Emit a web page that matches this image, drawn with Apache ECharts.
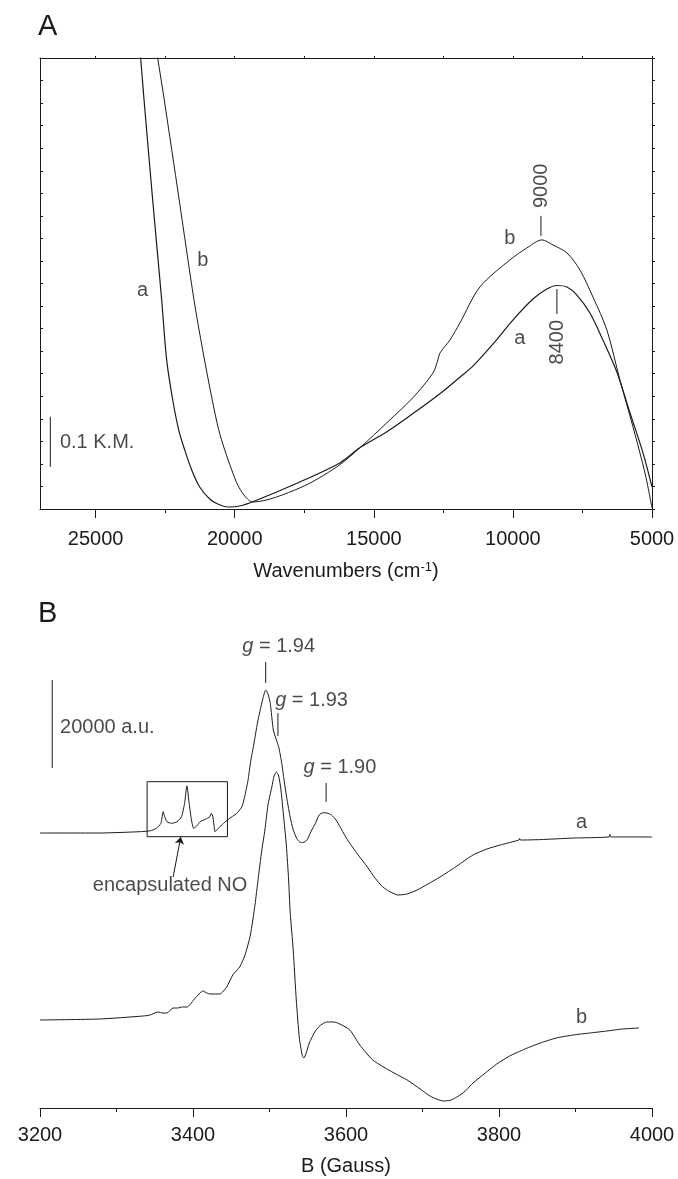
<!DOCTYPE html>
<html>
<head>
<meta charset="utf-8">
<script src="https://cdn.jsdelivr.net/npm/echarts@6/dist/echarts.min.js"></script>
<style>
  html, body { margin: 0; padding: 0; background: #fff; }
  #chart { width: 678px; height: 1179px; }
</style>
</head>
<body>
<div id="chart"></div>
<script>
// ---- panel A: diffuse reflectance (K.M.) vs wavenumber ----
const waveA_a = [23464, 23381, 23259, 22950, 22626, 22446, 22230, 22015, 21799, 21547, 21259, 20899, 20612, 20252, 19820, 19281, 17662, 16223, 15504, 14533, 13454, 12626, 11907, 11439, 10720, 10001, 9281, 8778, 8418, 8058, 7698, 7231, 6763, 6260, 5792, 5324, 5000];
const kmA_a = [0.956, 0.900, 0.816, 0.617, 0.417, 0.297, 0.218, 0.158, 0.118, 0.078, 0.044, 0.020, 0.010, 0.004, 0.006, 0.016, 0.054, 0.092, 0.122, 0.154, 0.196, 0.230, 0.263, 0.285, 0.329, 0.377, 0.419, 0.439, 0.446, 0.443, 0.427, 0.391, 0.337, 0.273, 0.192, 0.112, 0.044];
const waveA_b = [22928, 22770, 22532, 21997, 21464, 21151, 20810, 20576, 20360, 20108, 19892, 19640, 19353, 17662, 16331, 15504, 14533, 13598, 12878, 12698, 12626, 12267, 11907, 11188, 10108, 9497, 8957, 8562, 8058, 7591, 7123, 6620, 6152, 5684, 5253, 5000];
const kmA_b = [0.956, 0.900, 0.816, 0.617, 0.417, 0.317, 0.218, 0.158, 0.118, 0.078, 0.048, 0.026, 0.014, 0.042, 0.084, 0.122, 0.172, 0.222, 0.271, 0.297, 0.311, 0.337, 0.371, 0.443, 0.497, 0.521, 0.537, 0.527, 0.511, 0.477, 0.423, 0.357, 0.257, 0.164, 0.072, 0.002];
const waveTicksA = [5000, 10000, 15000, 20000, 25000];
const waveMinorA = [7500, 12500, 17500, 22500];
const waveEdgeA = [5000, 7500, 10000, 12500, 15000, 17500, 20000, 22500, 25000];

// labels and marks in panel A (wavenumber, K.M.)
const textA = ['a', 'b', 'b', 'a', '0.1 K.M.'];
const textA_x = [23309, 21151, 10108, 9748, 24946];
const textA_y = [0.437, 0.495, 0.539, 0.341, 0.132];
const peakA = ['9000', '8400'];
const peakA_x = [8990, 8382];
const peakA_y = [0.645, 0.333];
const peakLineA_x = [8993, 8418];
const peakLineA_lo = [0.545, 0.389];
const peakLineA_hi = [0.585, 0.439];
const barA = [26629, 0.084, 0.184];

// ---- panel B: EPR spectra ----
const fieldB_a = [3200, 3278, 3331, 3344, 3352, 3358, 3361, 3363, 3366, 3372, 3379, 3385, 3389, 3392, 3395, 3398, 3401, 3406, 3409, 3416, 3422, 3424, 3426, 3429, 3433, 3440, 3446, 3457, 3464, 3468, 3472, 3475, 3480, 3485, 3492, 3495, 3498, 3501, 3505, 3509, 3512, 3516, 3519, 3523, 3527, 3531, 3536, 3540, 3544, 3549, 3554, 3560, 3565, 3570, 3575, 3581, 3587, 3592, 3599, 3605, 3616, 3628, 3638, 3648, 3658, 3668, 3680, 3693, 3707, 3723, 3745, 3766, 3784, 3801, 3826, 3827, 3828, 3854, 3897, 3944, 3945, 3946, 4000];
const epr_a = [62500, 62500, 62800, 63000, 63550, 64700, 67350, 66200, 65050, 64700, 65050, 66200, 69250, 73200, 69250, 65450, 63550, 64300, 65050, 65600, 66200, 66950, 66200, 62800, 63550, 64700, 65600, 66950, 68500, 71150, 74550, 78350, 83200, 88200, 93500, 95000, 94100, 92000, 85900, 83650, 82100, 78350, 74550, 70000, 66150, 63200, 61150, 60400, 60350, 60900, 62750, 64700, 66600, 67100, 67050, 66600, 65450, 63950, 61800, 60150, 57500, 54750, 52250, 50250, 49100, 48400, 48650, 49550, 50900, 52500, 55000, 57500, 58850, 59750, 60900, 61300, 60900, 61000, 61350, 61600, 62200, 61600, 61600];
const fieldB_b = [3200, 3278, 3335, 3344, 3354, 3361, 3366, 3374, 3380, 3386, 3392, 3403, 3413, 3418, 3422, 3435, 3444, 3452, 3461, 3468, 3475, 3481, 3485, 3490, 3494, 3498, 3503, 3506, 3509, 3512, 3515, 3518, 3522, 3525, 3527, 3531, 3535, 3539, 3543, 3545, 3548, 3552, 3560, 3567, 3575, 3584, 3592, 3605, 3618, 3635, 3658, 3680, 3697, 3710, 3719, 3727, 3736, 3745, 3756, 3766, 3782, 3797, 3814, 3834, 3854, 3875, 3897, 3919, 3941, 3961, 3983];
const epr_b = [20000, 20230, 20910, 21140, 21820, 21590, 21590, 22730, 22730, 22950, 22950, 25000, 26590, 26140, 25910, 25910, 27500, 30230, 32050, 34770, 39320, 46140, 51820, 58640, 63180, 68860, 72950, 75450, 76360, 75450, 72270, 67050, 59770, 51820, 44550, 35910, 24550, 15910, 11820, 11360, 12500, 14770, 17500, 18860, 19550, 19550, 19090, 17730, 14320, 10910, 8410, 6360, 4320, 2700, 2000, 1600, 1750, 2500, 3860, 5680, 7950, 10000, 11820, 13410, 14770, 15910, 16590, 17050, 17500, 17950, 18180];
const fieldTicksB = [3200, 3400, 3600, 3800, 4000];

// labels and marks in panel B (Gauss, a.u.)
const gValues = ['1.94', '1.93', '1.90'];
const gText_x = [3512, 3555, 3592];
const gText_y = [105000, 92700, 77500];
const gLine_x = [3495, 3511, 3574];
const gLine_lo = [96600, 84550, 69550];
const gLine_hi = [101360, 89770, 73860];
const textB = ['20000 a.u.', 'encapsulated NO', 'a', 'b'];
const textB_x = [3288, 3370, 3908, 3908];
const textB_y = [86590, 50680, 65000, 20680];
const barB = [3216, 77270, 97270];
const boxB = [3340, 3445, 61660, 74160];
const arrowB = [3374, 52500, 3384, 61590];

const FONT = '"Liberation Sans", Arial, Helvetica, sans-serif';
const INK = '#1b1b1b';

const chart = echarts.init(document.getElementById('chart'));
const pairs = (xs, ys) => xs.map((x, i) => [x, ys[i]]);

const lineBase = {
  type: 'line', symbol: 'none', animation: false, silent: true,
  lineStyle: { color: INK, width: 1 },
};
const segment = (xi, yi, pts) => ({ ...lineBase, xAxisIndex: xi, yAxisIndex: yi, data: pts });
const textStyle = { fontSize: 20, color: INK, fontFamily: FONT };
const textSeries = (xi, yi, data, label) => ({
  type: 'scatter', xAxisIndex: xi, yAxisIndex: yi, symbolSize: 0, silent: true,
  animation: false, clip: false, data,
  label: { show: true, position: 'inside', ...textStyle, formatter: p => p.value[2], ...label },
});

const axisLine = { show: true, lineStyle: { color: INK, width: 1 } };
const noSplit = { show: false };
const plainNumber = v => String(v);

const series = [
  // panel A
  { ...lineBase, smooth: 0.3, xAxisIndex: 0, yAxisIndex: 0, data: pairs(waveA_a, kmA_a), lineStyle: { color: INK, width: 1.2 } },
  { ...lineBase, smooth: 0.3, xAxisIndex: 0, yAxisIndex: 0, data: pairs(waveA_b, kmA_b) },
  segment(0, 0, [[barA[0], barA[1]], [barA[0], barA[2]]]),
  ...peakLineA_x.map((x, i) => segment(0, 0, [[x, peakLineA_lo[i]], [x, peakLineA_hi[i]]])),
  textSeries(0, 0, textA.map((t, i) => [textA_x[i], textA_y[i], t])),
  textSeries(0, 0, peakA.map((t, i) => [peakA_x[i], peakA_y[i], t]), { rotate: 90 }),
  // panel B
  { ...lineBase, smooth: 0.2, xAxisIndex: 3, yAxisIndex: 2, data: pairs(fieldB_a, epr_a) },
  { ...lineBase, smooth: 0.2, xAxisIndex: 3, yAxisIndex: 2, data: pairs(fieldB_b, epr_b) },
  segment(3, 2, [[barB[0], barB[1]], [barB[0], barB[2]]]),
  ...gLine_x.map((x, i) => segment(3, 2, [[x, gLine_lo[i]], [x, gLine_hi[i]]])),
  {
    ...segment(3, 2, [[boxB[0], boxB[2]], [boxB[1], boxB[2]], [boxB[1], boxB[3]], [boxB[0], boxB[3]], [boxB[0], boxB[2]]]),
    markLine: {
      silent: true, animation: false, symbol: ['none', 'arrow'], symbolSize: 7,
      label: { show: false },
      lineStyle: { color: INK, width: 1, type: 'solid' },
      data: [[{ coord: [arrowB[0], arrowB[1]] }, { coord: [arrowB[2], arrowB[3]] }]],
    },
  },
  textSeries(3, 2, textB.map((t, i) => [textB_x[i], textB_y[i], t])),
  textSeries(3, 2, gValues.map((t, i) => [gText_x[i], gText_y[i], t]), {
    formatter: p => '{i|g} = ' + p.value[2],
    rich: { i: { ...textStyle, fontStyle: 'italic' } },
  }),
];

chart.setOption({
  backgroundColor: '#fff',
  animation: false,
  title: [
    { text: 'A', left: 38, top: 12, padding: 0, textStyle: { fontSize: 29, fontWeight: 'normal', color: INK, fontFamily: FONT } },
    { text: 'B', left: 38, top: 599, padding: 0, textStyle: { fontSize: 29, fontWeight: 'normal', color: INK, fontFamily: FONT } },
  ],
  grid: [
    { left: 40, top: 58, width: 612, height: 451 },
    { left: 40, top: 624, width: 612, height: 484 },
  ],
  xAxis: [
    {
      gridIndex: 0, type: 'value', min: 5000, max: 27000, inverse: true, position: 'bottom',
      axisLine, splitLine: noSplit,
      axisTick: { show: true, length: 9, customValues: waveTicksA, lineStyle: { color: INK } },
      axisLabel: { customValues: waveTicksA, margin: 20, formatter: plainNumber, ...textStyle },
      name: 'Wavenumbers (cm{sup|-1})', nameLocation: 'middle', nameGap: 52,
      nameTextStyle: { ...textStyle, rich: { sup: { fontSize: 13, color: INK, fontFamily: FONT, verticalAlign: 'top' } } },
    },
    {
      gridIndex: 0, type: 'value', min: 5000, max: 27000, inverse: true, position: 'bottom',
      axisLine: { show: false }, splitLine: noSplit,
      axisTick: { show: true, length: 4, customValues: waveMinorA, lineStyle: { color: INK } },
      axisLabel: { show: false },
    },
    {
      gridIndex: 0, type: 'value', min: 5000, max: 27000, inverse: true, position: 'top',
      axisLine, splitLine: noSplit,
      axisTick: { show: true, length: 2, customValues: waveEdgeA, lineStyle: { color: INK } },
      axisLabel: { show: false },
    },
    {
      gridIndex: 1, type: 'value', min: 3200, max: 4000, interval: 200, position: 'bottom',
      axisLine, splitLine: noSplit,
      axisTick: { show: true, length: 9, lineStyle: { color: INK } },
      minorTick: { show: true, splitNumber: 2, length: 4, lineStyle: { color: INK } },
      axisLabel: { margin: 17, formatter: plainNumber, ...textStyle },
      name: 'B (Gauss)', nameLocation: 'middle', nameGap: 48, nameTextStyle: textStyle,
    },
  ],
  yAxis: [
    {
      gridIndex: 0, type: 'value', min: 0, max: 0.9, interval: 0.045, position: 'left',
      axisLine, splitLine: noSplit,
      axisTick: { show: true, inside: true, length: 3, lineStyle: { color: INK } },
      axisLabel: { show: false },
    },
    {
      gridIndex: 0, type: 'value', min: 0, max: 0.9, interval: 0.045, position: 'right',
      axisLine, splitLine: noSplit,
      axisTick: { show: true, length: 3, lineStyle: { color: INK } },
      axisLabel: { show: false },
    },
    { gridIndex: 1, type: 'value', min: 0, max: 110000, show: false, splitLine: noSplit },
  ],
  series,
});
</script>
</body>
</html>
